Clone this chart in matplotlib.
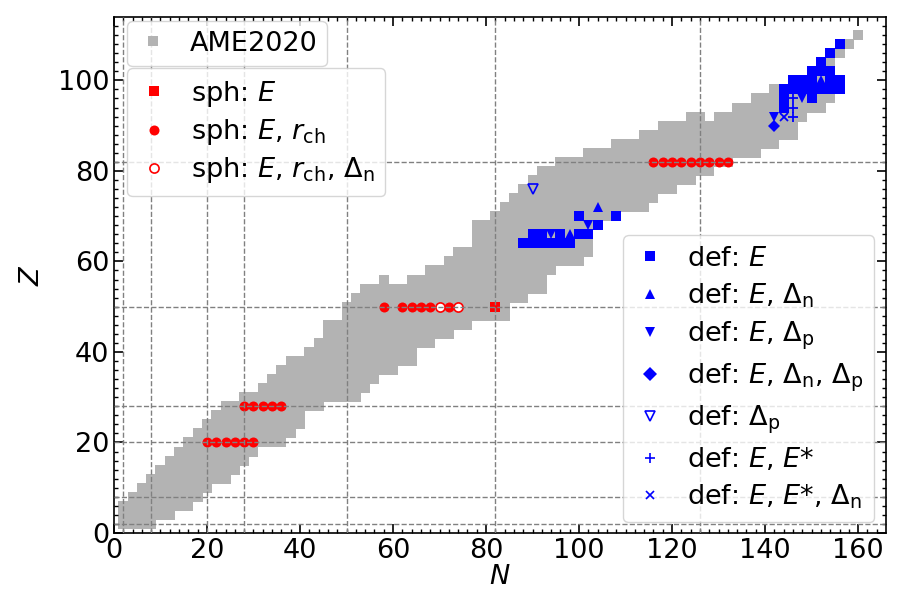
import numpy as np
import matplotlib
matplotlib.use('Agg')
import matplotlib.pyplot as plt
from matplotlib.lines import Line2D

# AME2020 even-even nuclei: for each row Z, neutron numbers from n_lo to n_hi (step 2)
ame_z = [2, 4, 6, 8, 10, 12, 14, 16, 18, 20, 22, 24, 26, 28, 30, 32, 34, 36, 38, 40,
         42, 44, 46, 48, 50, 52, 54, 56, 56, 58, 60, 62, 64, 66, 68, 70, 72, 74, 76,
         78, 80, 82, 84, 86, 88, 90, 92, 92, 94, 96, 98, 100, 102, 104, 106, 108, 110]
ame_nlo = [2, 2, 2, 4, 6, 8, 10, 12, 14, 16, 18, 20, 22, 24, 28, 32, 34, 36, 38, 42,
           44, 46, 46, 50, 50, 52, 54, 58, 64, 68, 72, 74, 78, 78, 78, 82, 84, 86, 88,
           90, 92, 96, 102, 108, 114, 118, 124, 130, 134, 138, 142, 146, 150, 152, 154, 156, 160]
ame_nhi = [8, 12, 16, 18, 20, 24, 26, 28, 30, 36, 38, 40, 40, 44, 52, 54, 56, 60, 64, 64,
           68, 72, 76, 84, 84, 88, 92, 58, 92, 94, 100, 102, 102, 102, 104, 108, 114, 116, 120,
           124, 128, 132, 138, 142, 146, 146, 126, 148, 152, 154, 156, 156, 154, 154, 156, 158, 160]

# spherical nuclei
sph_E_n = [82]
sph_E_z = [50]
sph_Er_n = [20, 22, 24, 26, 28, 30, 28, 30, 32, 34, 36, 58, 62, 64, 66, 68, 72,
            116, 118, 120, 122, 124, 126, 128, 130, 132]
sph_Er_z = [20, 20, 20, 20, 20, 20, 28, 28, 28, 28, 28, 50, 50, 50, 50, 50, 50,
            82, 82, 82, 82, 82, 82, 82, 82, 82]
sph_Erd_n = [70, 74]
sph_Erd_z = [50, 50]

# deformed nuclei
def_E_n = [88, 90, 92, 94, 96, 98, 90, 92, 96, 100, 102, 104, 100, 108,
           144, 144, 150, 144, 146, 148, 150, 152, 154, 156,
           146, 148, 150, 154, 156, 150, 152, 154, 152, 154, 156]
def_E_z = [64, 64, 64, 64, 64, 64, 66, 66, 66, 66, 66, 68, 70, 70,
           94, 96, 96, 98, 98, 98, 98, 98, 98, 98,
           100, 100, 100, 100, 100, 102, 102, 102, 104, 106, 108]
def_Edn_n = [98, 104, 152]
def_Edn_z = [66, 72, 100]
def_Edp_n = [94, 102, 148, 142]
def_Edp_z = [66, 68, 96, 92]
def_Ednp_n = [142]
def_Ednp_z = [90]
def_dp_n = [90]
def_dp_z = [76]
def_EEs_n = [146, 146, 146]
def_EEs_z = [92, 94, 96]
def_EEsdn_n = [144]
def_EEsdn_z = [92]

magic = [2, 8, 20, 28, 50, 82, 126]

plt.rcParams['font.size'] = 19.5
plt.rcParams['mathtext.default'] = 'it'

fig = plt.figure(figsize=(9.03, 5.95), dpi=100)
ax = fig.add_axes([0.1262, 0.1042, 0.855, 0.8672])

nn, zz = [], []
for z, lo, hi in zip(ame_z, ame_nlo, ame_nhi):
    for n in range(lo, hi + 1, 2):
        nn.append(n)
        zz.append(z)

ms = 6.7
ax.plot(nn, zz, 's', color='0.7', ms=ms, mew=0, ls='none', zorder=1)

ax.plot(sph_E_n, sph_E_z, 's', color='red', ms=ms, mew=0, ls='none', zorder=2)
ax.plot(sph_Er_n, sph_Er_z, 'o', color='red', ms=7.2, mew=0, ls='none', zorder=2)
ax.plot(sph_Erd_n, sph_Erd_z, 'o', mfc='white', mec='red', ms=6.6, mew=1.2, ls='none', zorder=2)

ax.plot(def_E_n, def_E_z, 's', color='blue', ms=ms, mew=0, ls='none', zorder=2)
ax.plot(def_Edn_n, def_Edn_z, '^', color='blue', ms=6.8, mew=0, ls='none', zorder=2)
ax.plot(def_Edp_n, def_Edp_z, 'v', color='blue', ms=6.8, mew=0, ls='none', zorder=2)
ax.plot(def_Ednp_n, def_Ednp_z, 'D', color='blue', ms=6.2, mew=0, ls='none', zorder=2)
ax.plot(def_dp_n, def_dp_z, 'v', mfc='none', mec='blue', ms=6.5, mew=1.2, ls='none', zorder=2)
ax.plot(def_EEs_n, def_EEs_z, '+', color='blue', ms=7, mew=1.3, ls='none', zorder=2)
ax.plot(def_EEsdn_n, def_EEsdn_z, 'x', color='blue', ms=6, mew=1.3, ls='none', zorder=2)

for m in magic:
    ax.axvline(m, color='gray', ls='--', lw=1.0, zorder=3)
    if m < 110:
        ax.axhline(m, color='gray', ls='--', lw=1.0, zorder=3)

ax.set_xlim(0, 166)
ax.set_ylim(0, 114)
ax.set_xticks(np.arange(0, 161, 20))
ax.set_yticks(np.arange(0, 101, 20))
ax.set_xticks(np.arange(0, 166, 2), minor=True)
ax.set_yticks(np.arange(0, 114, 2), minor=True)
ax.tick_params(which='both', direction='in', top=True, right=True)
ax.tick_params(which='major', length=6.5, width=1.2)
ax.tick_params(which='minor', length=3.2, width=1.0)
for s in ax.spines.values():
    s.set_linewidth(1.2)
ax.set_xlabel('$N$', labelpad=0)
ax.set_ylabel('$Z$', labelpad=9)

h1 = [Line2D([], [], marker='s', color='0.7', ls='none', ms=ms, mew=0, label='AME2020')]
h2 = [Line2D([], [], marker='s', color='red', ls='none', ms=ms, mew=0, label='sph: $E$'),
      Line2D([], [], marker='o', color='red', ls='none', ms=7.2, mew=0, label='sph: $E$, $r_{\\rm ch}$'),
      Line2D([], [], marker='o', mfc='white', mec='red', ls='none', ms=6.6, mew=1.2,
             label='sph: $E$, $r_{\\rm ch}$, $\\Delta_{\\rm n}$')]
h3 = [Line2D([], [], marker='s', color='blue', ls='none', ms=ms, mew=0, label='def: $E$'),
      Line2D([], [], marker='^', color='blue', ls='none', ms=6.8, mew=0, label='def: $E$, $\\Delta_{\\rm n}$'),
      Line2D([], [], marker='v', color='blue', ls='none', ms=6.8, mew=0, label='def: $E$, $\\Delta_{\\rm p}$'),
      Line2D([], [], marker='D', color='blue', ls='none', ms=7.2, mew=0,
             label='def: $E$, $\\Delta_{\\rm n}$, $\\Delta_{\\rm p}$'),
      Line2D([], [], marker='v', mfc='none', mec='blue', ls='none', ms=6.5, mew=1.2, label='def: $\\Delta_{\\rm p}$'),
      Line2D([], [], marker='+', color='blue', ls='none', ms=7, mew=1.2, label='def: $E$, $E$*'),
      Line2D([], [], marker='x', color='blue', ls='none', ms=6, mew=1.2, label='def: $E$, $E$*, $\\Delta_{\\rm n}$')]

leg_kw = dict(borderaxespad=0, handlelength=1.2, handletextpad=0.75)
leg1 = ax.legend(handles=h1, loc='upper left', bbox_to_anchor=(0.017, 0.992),
                 borderpad=0.35, **leg_kw)
ax.add_artist(leg1)
leg2 = ax.legend(handles=h2, loc='upper left', bbox_to_anchor=(0.017, 0.901),
                 labelspacing=0.3, **leg_kw)
ax.add_artist(leg2)
leg3 = ax.legend(handles=h3, loc='lower right', bbox_to_anchor=(0.9845, 0.021),
                 labelspacing=0.36, **leg_kw)
for lg in (leg1, leg2, leg3):
    lg.set_zorder(5)

fig.savefig('out.png', dpi=100)
